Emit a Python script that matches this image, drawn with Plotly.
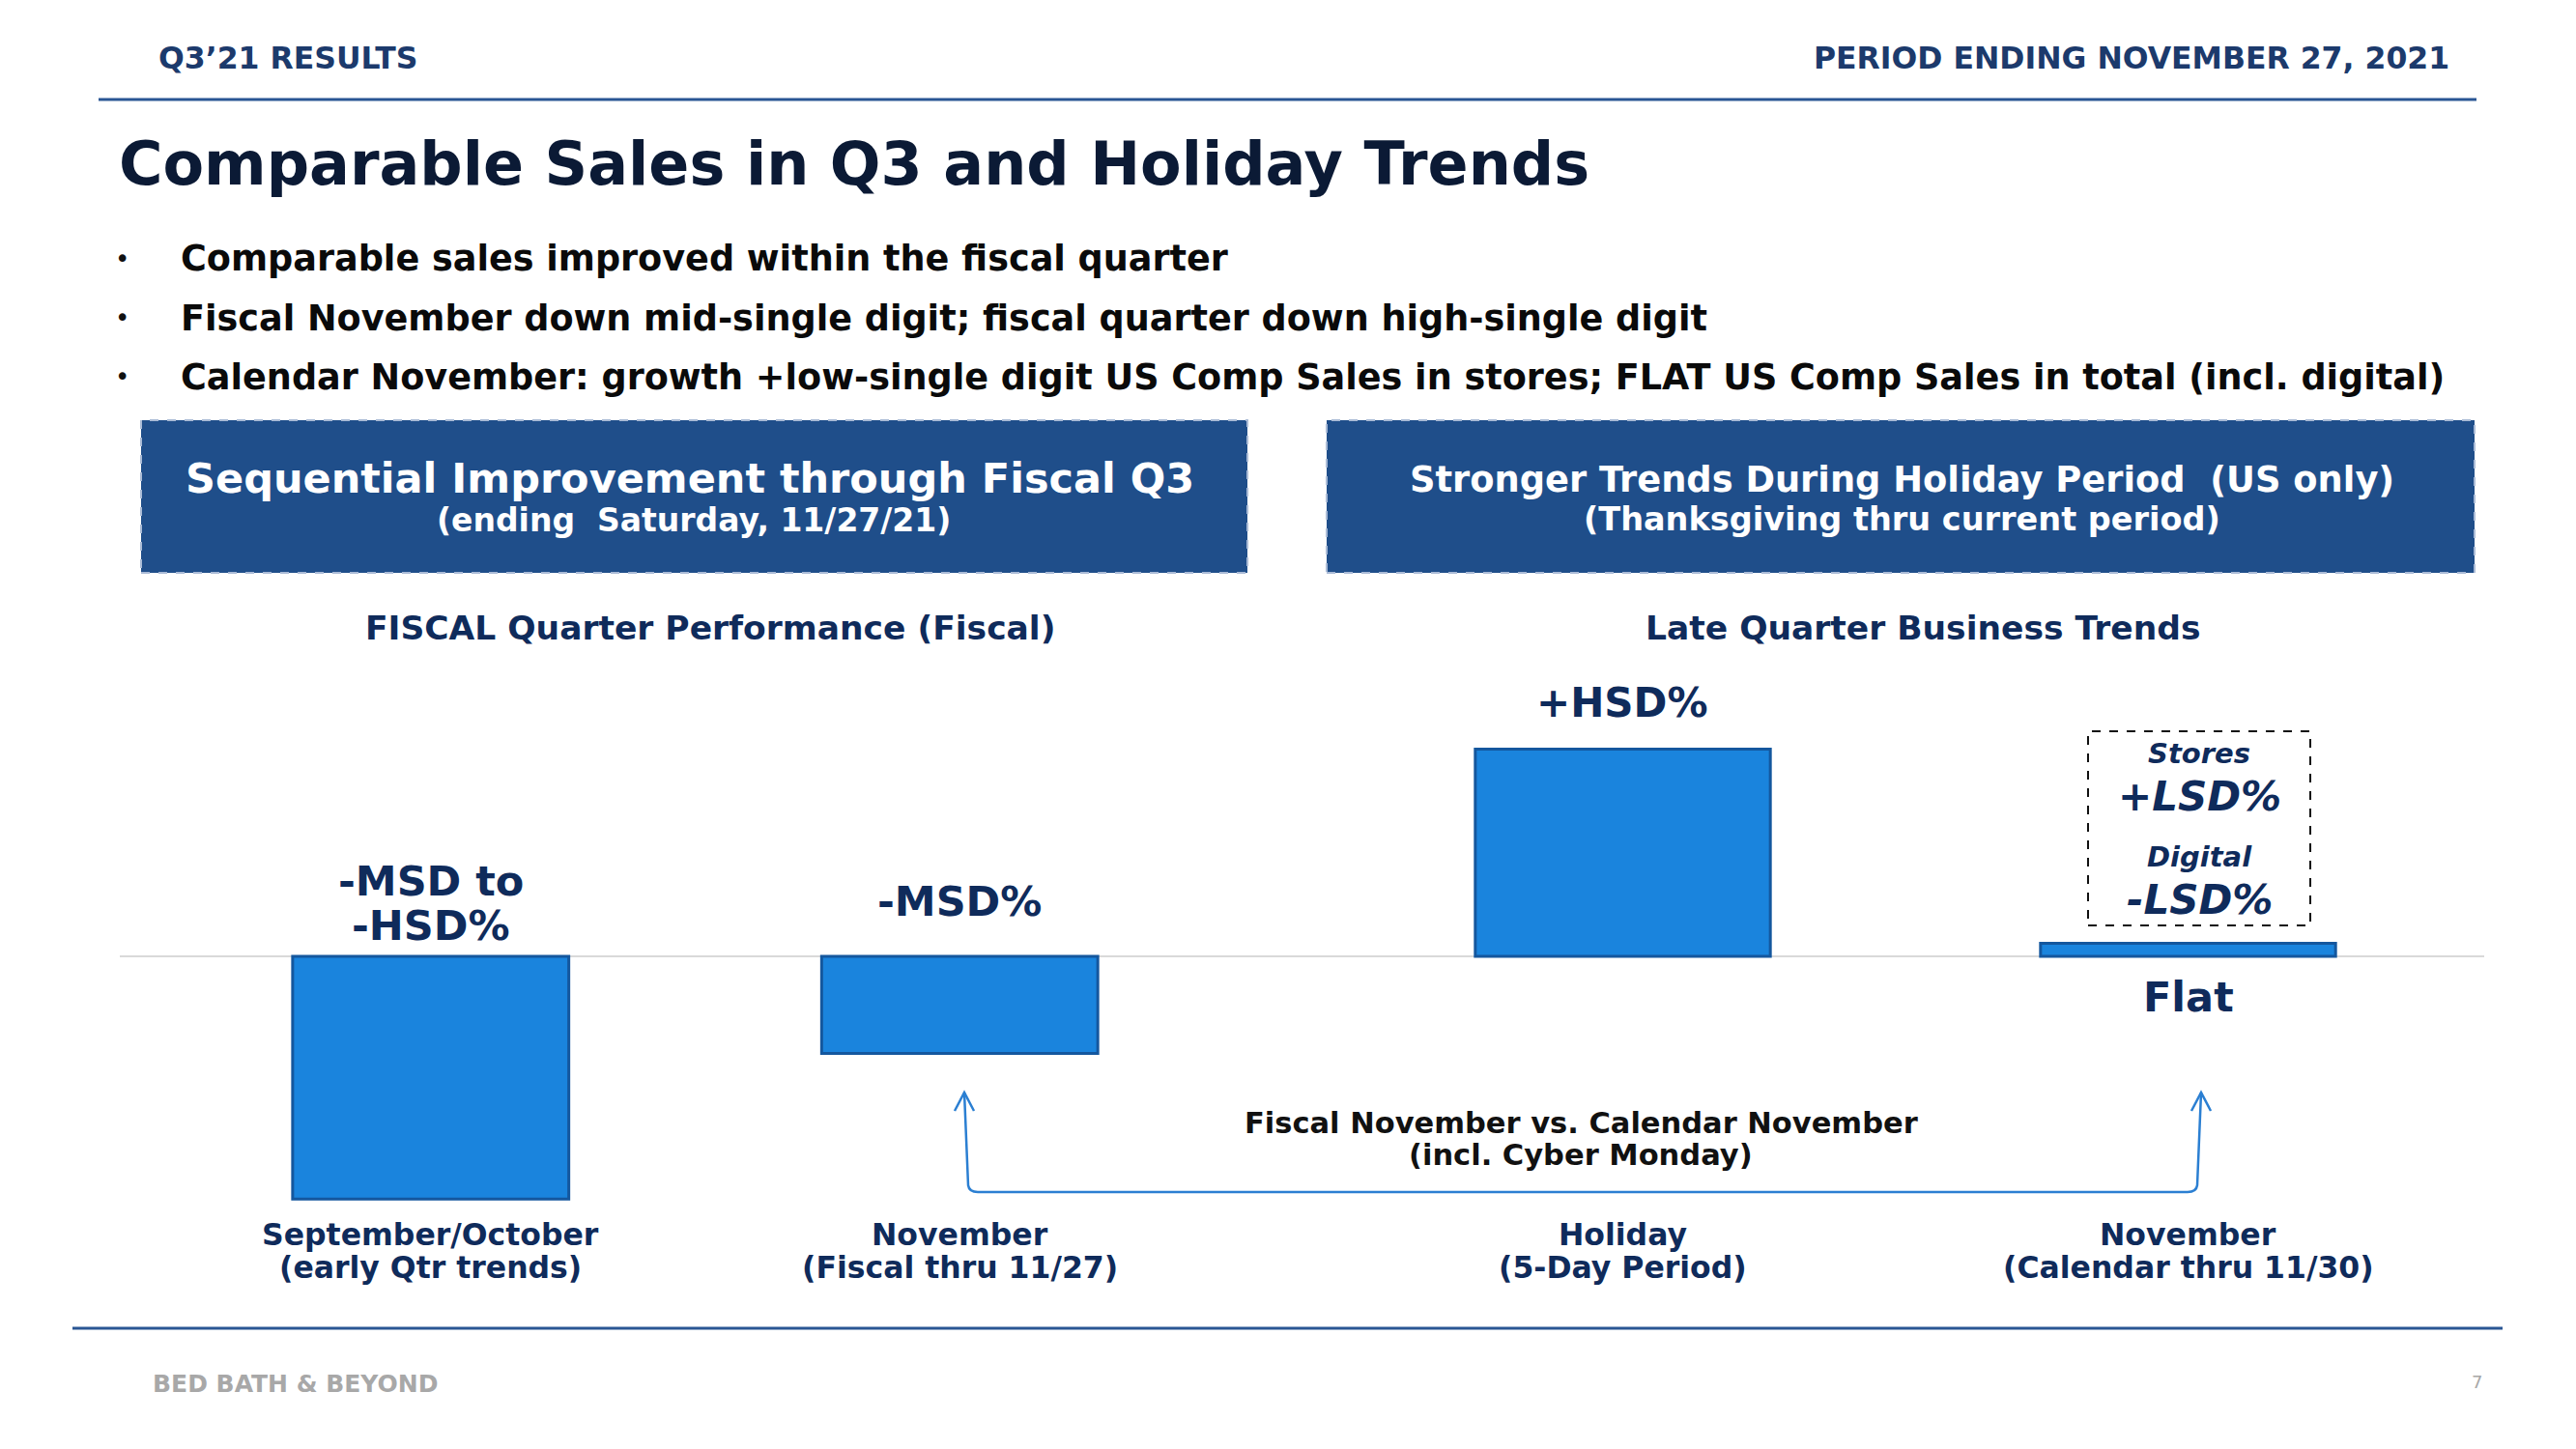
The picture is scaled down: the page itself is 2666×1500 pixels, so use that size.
import plotly.graph_objects as go

W, H = 2666, 1500

# ---------------- data / text ----------------
header_left = "Q3’21 RESULTS"
header_right = "PERIOD ENDING NOVEMBER 27, 2021"
title = "Comparable Sales in Q3 and Holiday Trends"
bullets = [
    "Comparable sales improved within the fiscal quarter",
    "Fiscal November down mid-single digit; fiscal quarter down high-single digit",
    "Calendar November: growth +low-single digit US Comp Sales in stores; FLAT US Comp Sales in total (incl. digital)",
]
left_box = ["Sequential Improvement through Fiscal Q3", "(ending  Saturday, 11/27/21)"]
right_box = ["Stronger Trends During Holiday Period  (US only)", "(Thanksgiving thru current period)"]
left_section = "FISCAL Quarter Performance (Fiscal)"
right_section = "Late Quarter Business Trends"

left_categories = ["September/October<br>(early Qtr trends)", "November<br>(Fiscal thru 11/27)"]
left_values = [-7.5, -3.0]
left_value_labels = ["-MSD to<br>-HSD%", "-MSD%"]

right_categories = ["Holiday<br>(5-Day Period)", "November<br>(Calendar thru 11/30)"]
right_values = [6.4, 0.4]
right_value_labels = ["+HSD%", "Flat"]

breakdown_labels = ["Stores", "+LSD%", "Digital", "-LSD%"]
connector_label = "Fiscal November vs. Calendar November<br>(incl. Cyber Monday)"
footer_left = "BED BATH & BEYOND"
page_number = "7"

# ---------------- styling ----------------
FONT = "DejaVu Sans"
NAVY = "#0f2b5b"
TITLE_C = "#0b1a35"
BOX_C = "#1f4e8a"
BAR_C = "#1a84dd"
BAR_EDGE = "#14579e"
ARROW_C = "#2b7fd2"


def px(x):
    return x / W


def py(y):
    return 1 - y / H


fig = go.Figure()

fig.add_trace(go.Bar(
    x=left_categories, y=left_values, xaxis="x", yaxis="y",
    marker=dict(color=BAR_C, line=dict(color=BAR_EDGE, width=3)),
    hoverinfo="skip", showlegend=False,
))
fig.add_trace(go.Bar(
    x=right_categories, y=right_values, xaxis="x2", yaxis="y2",
    marker=dict(color=BAR_C, line=dict(color=BAR_EDGE, width=3)),
    hoverinfo="skip", showlegend=False,
))

UNIT = 33.5          # pixels per unit
ZERO_PX = 990
TOP_PX, BOT_PX = 700, 1255
yr = [-(BOT_PX - ZERO_PX) / UNIT, (ZERO_PX - TOP_PX) / UNIT]
ydom = [py(BOT_PX), py(TOP_PX)]

ax_common = dict(visible=False, showgrid=False, zeroline=False, fixedrange=True)
fig.update_layout(
    width=W, height=H,
    margin=dict(l=0, r=0, t=0, b=0),
    paper_bgcolor="white", plot_bgcolor="rgba(0,0,0,0)",
    bargap=0.478,
    font=dict(family=FONT, color=NAVY),
    xaxis=dict(domain=[px(172), px(1267)], range=[-0.5, 1.5], type="category", **ax_common),
    xaxis2=dict(domain=[px(1387), px(2557)], range=[-0.5, 1.5], type="category", **ax_common),
    yaxis=dict(domain=ydom, range=yr, anchor="x", **ax_common),
    yaxis2=dict(domain=ydom, range=yr, anchor="x2", **ax_common),
)

annotations = []


def txt(x, y, text, size, color=NAVY, xanchor="center", weight="bold", style="normal",
        xref="paper", family=FONT):
    annotations.append(dict(
        x=px(x) if xref == "paper" else x, y=py(y), xref=xref, yref="paper",
        text=text, showarrow=False, xanchor=xanchor, yanchor="middle", align="center",
        font=dict(family=family, size=size, color=color, weight=weight, style=style),
    ))


def lines(x, y_first, gap, text, size, **kw):
    for i, part in enumerate(text.split("<br>")):
        txt(x, y_first + i * gap, part, size, **kw)


# header
txt(162, 60, header_left, 31.5, color="#1c3a6c", xanchor="left")
txt(2537, 60, header_right, 31.5, color="#1c3a6c", xanchor="right")
# title
txt(121, 170, title, 62, color=TITLE_C, xanchor="left")
# bullets
for i, b in enumerate(bullets):
    yy = [268, 329, 390][i]
    txt(117, yy, "•", 26, color="#111111", xanchor="left", weight="normal")
    txt(185, yy, b, 36.6, color="#0a0a0a", xanchor="left")

# boxes
shapes = []
for (x0, x1) in [(146, 1291), (1373, 2561)]:
    shapes.append(dict(type="rect", xref="paper", yref="paper",
                       x0=px(x0), x1=px(x1), y0=py(593), y1=py(435),
                       fillcolor=BOX_C, line=dict(color="#aabbd6", width=2, dash="dash"),
                       layer="below"))
txt(714, 495, left_box[0], 43, color="white")
txt(718, 538, left_box[1], 33, color="white")
txt(1968, 497, right_box[0], 36.8, color="white")
txt(1968, 537, right_box[1], 33.5, color="white")

# section headers
txt(735, 650, left_section, 34.5)
txt(1990, 650, right_section, 34.5)

# zero line
shapes.append(dict(type="line", xref="paper", yref="y", x0=px(124), x1=px(2571), y0=0, y1=0,
                   line=dict(color="#cccccc", width=1.5), layer="below"))

# value labels
lines(left_categories[0], 912, 46, left_value_labels[0], 43, xref="x")
txt(left_categories[1], 933, left_value_labels[1], 43, xref="x")
txt(right_categories[0], 727, right_value_labels[0], 42, xref="x2")
txt(right_categories[1], 1032, right_value_labels[1], 43, xref="x2")

# stores / digital breakdown
bx = 2276
for lab, yy, sz in zip(breakdown_labels, [780, 824, 887, 931], [29, 42, 29, 42]):
    txt(bx, yy, lab, sz, style="italic")
shapes.append(dict(type="rect", xref="paper", yref="paper",
                   x0=px(2161), x1=px(2391), y0=py(958), y1=py(757),
                   line=dict(color="#111111", width=2, dash="dash"), fillcolor="rgba(0,0,0,0)"))

# category labels
for c in left_categories:
    lines(c, 1278, 34, c, 31.5, xref="x")
for c in right_categories:
    lines(c, 1278, 34, c, 31.5, xref="x2")

# connector between fiscal and calendar November
xl, xr, ytop, ybot = 998, 2278, 1131, 1234
path = (f"M {px(xl)},{py(ytop)} L {px(xl + 4)},{py(ybot - 7)} "
        f"Q {px(xl + 5)},{py(ybot)} {px(xl + 14)},{py(ybot)} "
        f"L {px(xr - 14)},{py(ybot)} Q {px(xr - 5)},{py(ybot)} {px(xr - 4)},{py(ybot - 7)} "
        f"L {px(xr)},{py(ytop)}")
shapes.append(dict(type="path", xref="paper", yref="paper", path=path,
                   line=dict(color=ARROW_C, width=2.5)))
for xa in (xl, xr):
    head = (f"M {px(xa - 10)},{py(ytop + 19)} L {px(xa)},{py(ytop)} L {px(xa + 10)},{py(ytop + 19)}")
    shapes.append(dict(type="path", xref="paper", yref="paper", path=head,
                       line=dict(color=ARROW_C, width=2.5)))
lines(1636, 1162, 33, connector_label, 30.5, color="#111111")

# rules
shapes.append(dict(type="line", xref="paper", yref="paper", x0=px(102), x1=px(2563),
                   y0=py(103), y1=py(103), line=dict(color="#2a5694", width=3)))
shapes.append(dict(type="line", xref="paper", yref="paper", x0=px(75), x1=px(2590),
                   y0=py(1375), y1=py(1375), line=dict(color="#2a5694", width=3)))

# footer
txt(156, 1432, footer_left, 25, color="#a8a8a8", xanchor="left")
txt(2563, 1430, page_number, 18, color="#a8a8a8", weight="normal")

fig.update_layout(annotations=annotations, shapes=shapes)

fig.write_html("out.html", config={"displayModeBar": False},
               post_script="document.body.style.margin='0';document.body.style.overflow='hidden';")
